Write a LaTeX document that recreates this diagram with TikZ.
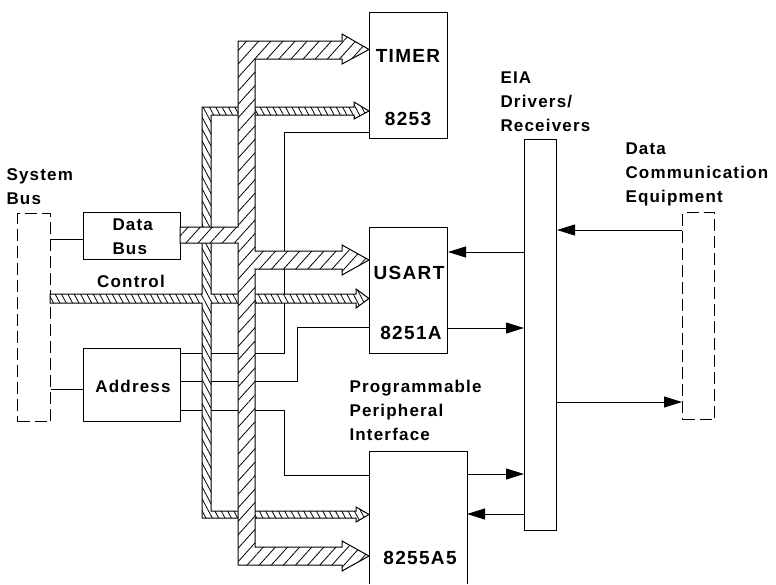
\documentclass[tikz,border=0pt]{standalone}
\usepackage{fontspec}
\setmainfont[LetterSpace=7]{Liberation Sans}
\usepackage{tikz}
\usetikzlibrary{arrows.meta, patterns.meta}
\begin{document}
\begin{tikzpicture}[
        x=1pt, y=-1pt,
        line width=1pt,
        box/.style={rectangle, draw, fill=white, inner sep=0pt, anchor=north west},
        dashbox/.style={box, dash pattern=on 12pt off 5pt},
        lbl/.style={font=\fontsize{17}{24}\bfseries\selectfont, align=left, inner sep=0pt},
        biglbl/.style={font=\fontsize{19}{24}\bfseries\selectfont, inner sep=0pt},
        arrow/.style={draw, -{Triangle[length=18pt, width=11pt]}},
        widebus/.style={draw, preaction={fill=white}, pattern={Lines[angle=48, distance=9pt, line width=0.8pt]}},
        thinbus/.style={draw, preaction={fill=white}, pattern={Lines[angle=-62, distance=5.6pt, line width=0.8pt]}}
    ]
        \useasboundingbox (0,0) rectangle (776,584);

        \node [box, minimum width=78pt, minimum height=126pt] (timer) at (369,12) {};
        \node [box, minimum width=78pt, minimum height=126pt] (usart) at (369,227) {};
        \node [box, minimum width=97pt, minimum height=47pt] (databus) at (83,212) {};
        \node [box, minimum width=97pt, minimum height=73pt] (address) at (83,348) {};
        \node [box, minimum width=32pt, minimum height=391pt] (eia) at (524,139) {};
        \node [dashbox, minimum width=33pt, minimum height=208pt] (sysbus) at (17,213) {};
        \node [dashbox, minimum width=32pt, minimum height=207pt] (dce) at (682,212) {};

        \draw (369,584) -- (369,451) -- (467,451) -- (467,584);

        \draw (sysbus.east |- 0,239) -- (databus.west |- 0,239);
        \draw (sysbus.east |- 0,389) -- (address.west |- 0,389);
        \draw (timer.west |- 0,132) -| (284,353) -- (address.east |- 0,353);
        \draw (usart.west |- 0,327) -| (297,381) -- (address.east |- 0,381);
        \draw (369,475) -| (284,410) -- (address.east |- 0,410);

        \path [thinbus] (50,294) -- (202,294) -- (202,107) -- (354,107) -- (354,102) -- (369,111) -- (354,119) -- (354,115) -- (211,115) -- (211,294) -- (356,294) -- (356,289) -- (369,298.5) -- (356,308) -- (356,303) -- (211,303) -- (211,511) -- (356,511) -- (356,507) -- (369,514.5) -- (356,522) -- (356,518) -- (202,518) -- (202,303) -- (50,303) -- cycle;
        \path [widebus] (238,41) -- (342,41) -- (342,34) -- (369,49.5) -- (342,64) -- (342,59) -- (255,59) -- (255,251) -- (342,251) -- (342,245) -- (369,260) -- (342,275) -- (342,269) -- (255,269) -- (255,547) -- (342,547) -- (342,541) -- (369,556) -- (342,571) -- (342,565) -- (238,565) -- (238,243) -- (180,243) -- (180,227) -- (238,227) -- cycle;

        \path [arrow] (eia.west |- 0,252) -- (usart.east |- 0,252);
        \path [arrow] (usart.east |- 0,328) -- (eia.west |- 0,328);
        \path [arrow] (dce.west |- 0,230) -- (eia.east |- 0,230);
        \path [arrow] (eia.east |- 0,402) -- (dce.west |- 0,402);
        \path [arrow] (467,474) -- (eia.west |- 0,474);
        \path [arrow] (eia.west |- 0,514) -- (467,514);

        \node [biglbl] (timerlbl) at (408,56) {TIMER};
        \node [biglbl] (timernum) at (408,119) {8253};
        \node [biglbl] (usartlbl) at (409,273) {USART};
        \node [biglbl] (usartnum) at (411,333) {8251A};
        \node [biglbl] (ppinum) at (420,558) {8255A5};
        \node [lbl, anchor=north west] (ppilbl) at (349,380) {Programmable\\Peripheral\\Interface};
        \node [lbl, anchor=north west] (eialbl) at (500,71.5) {EIA\\Drivers/\\Receivers};
        \node [lbl, anchor=north west] (dcelbl) at (625,142) {Data\\Communication\\Equipment};
        \node [lbl, anchor=north west] (syslbl) at (6,168.5) {System\\Bus};
        \node [lbl, anchor=north west] (datalbl) at (112,218.5) {Data\\Bus};
        \node [lbl] (ctrllbl) at (131,281) {Control};
        \node [lbl] (addrlbl) at (133,386) {Address};
    \end{tikzpicture}
\end{document}
